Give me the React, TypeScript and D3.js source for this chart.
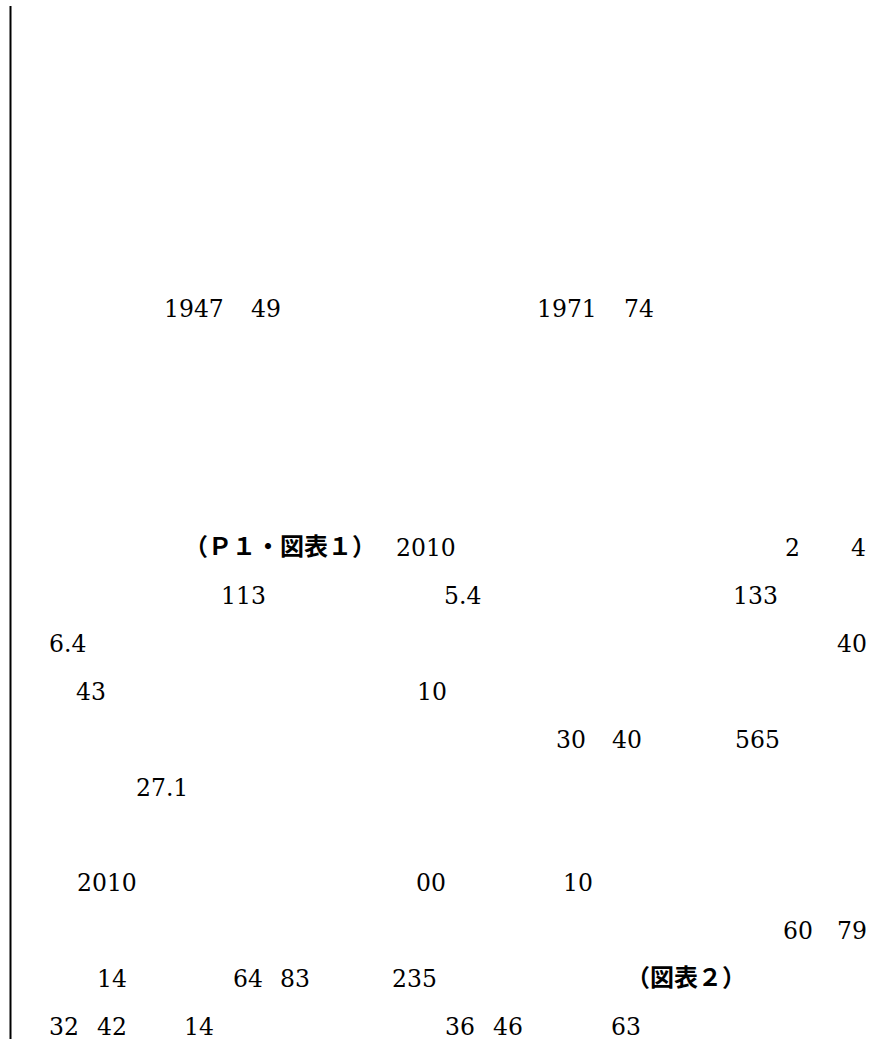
import React from 'react';
import * as d3 from 'd3';

// text fragments that survived on the page, row by row (row index = text line)
const rowIndex = [0, 5, 6, 7, 8, 9, 10, 12, 13, 14, 15];
const rowTokens: string[][] = [
  ['1947', '49', '1971', '74'],
  ['（Ｐ１・図表１）', '2010', '2', '4'],
  ['113', '5.4', '133'],
  ['6.4', '40'],
  ['43', '10'],
  ['30', '40', '565'],
  ['27.1'],
  ['2010', '00', '10'],
  ['60', '79'],
  ['14', '64', '83', '235', '（図表２）'],
  ['32', '42', '14', '36', '46', '63'],
];
// left edge of each fragment, in page pixels
const rowX: number[][] = [
  [165, 252, 538, 625],
  [184, 397, 786, 852],
  [222, 445, 734],
  [50, 838],
  [77, 418],
  [557, 613, 736],
  [137],
  [78, 417, 564],
  [784, 838],
  [98, 234, 281, 393, 626],
  [50, 98, 185, 446, 494, 612],
];

const W = 878;
const H = 1039;

const isCJK = (s: string) => /[\u3000-\u9fff\uff00-\uffef]/.test(s);

export default function App() {
  const y = d3.scaleLinear().domain([0, 15]).range([317, 1035]);
  const x = d3.scaleLinear().domain([0, W]).range([0, W]);

  return (
    <svg
      width={W}
      height={H}
      viewBox={`0 0 ${W} ${H}`}
      style={{ position: 'fixed', left: 0, top: 0, background: '#fff' }}
    >
      <rect width={W} height={H} fill="#fff" />
      {/* margin rule on the left */}
      <line x1={10.5} x2={10.5} y1={6} y2={H} stroke="#000" strokeWidth={2} />
      {rowTokens.map((tokens, r) => (
        <g key={r}>
          {tokens.map((t, i) =>
            isCJK(t) ? (
              <text
                key={i}
                x={x(rowX[r][i])}
                y={y(rowIndex[r]) - 1}
                fontFamily="'Noto Sans CJK JP', sans-serif"
                fontWeight={700}
                fontSize={24}
                fill="#000"
              >
                {t}
              </text>
            ) : (
              <text
                key={i}
                x={x(rowX[r][i]) - 1}
                y={y(rowIndex[r])}
                fontFamily="'DejaVu Serif', serif"
                fontSize={23.5}
                fill="#000"
              >
                {t}
              </text>
            )
          )}
        </g>
      ))}
    </svg>
  );
}
